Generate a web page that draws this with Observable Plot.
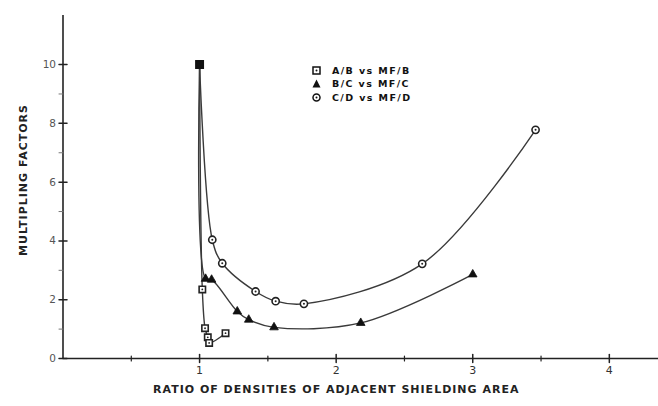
<!DOCTYPE html>
<html><head><meta charset="utf-8">
<script src="https://cdn.jsdelivr.net/npm/d3@7"></script>
<script src="https://cdn.jsdelivr.net/npm/@observablehq/plot@0.6"></script>
<style>
body{margin:0;background:#fff;}
#wrap{position:relative;width:658px;height:406px;}
.legend{position:absolute;left:312px;top:64px;font:bold 9.5px "DejaVu Sans",sans-serif;letter-spacing:1.4px;color:#111;}
.legend div{height:13.3px;display:flex;align-items:center;white-space:pre;}
.legend svg{margin-right:11px}
</style></head><body><div id="wrap"></div>
<script>
// Series: A/B vs MF/B (squares)
const xAB = [1.0, 1.02, 1.04, 1.06, 1.07, 1.19];
const yAB = [10, 2.35, 1.03, 0.72, 0.53, 0.86];
// Series: B/C vs MF/C (triangles)
const xBC = [1.0, 1.044, 1.088, 1.276, 1.36, 1.545, 2.18, 3.0];
const yBC = [10, 2.71, 2.68, 1.6, 1.32, 1.06, 1.21, 2.86];
// Series: C/D vs MF/D (circles)
const xCD = [1.0, 1.093, 1.166, 1.41, 1.557, 1.764, 2.63, 3.46];
const yCD = [10, 4.04, 3.24, 2.28, 1.95, 1.86, 3.22, 7.78];

const seriesNames = ["A/B vs MF/B", "B/C vs MF/C", "C/D vs MF/D"];
const xMajorTicks = [1, 2, 3, 4];
const xMinorTicks = [0.5, 1.5, 2.5, 3.5];
const yMajorTicks = [0, 2, 4, 6, 8, 10];
const yMinorTicks = [1, 3, 5, 7, 9];
const xTitle = "RATIO OF DENSITIES OF ADJACENT SHIELDING AREA";
const yTitle = "MULTIPLING FACTORS";

const pts = (xs, ys) => xs.map((x, i) => ({x, y: ys[i]}));
const AB = pts(xAB, yAB), BC = pts(xBC, yBC), CD = pts(xCD, yCD);

const lineShape = {draw(ctx, l) { ctx.moveTo(0, 0); ctx.lineTo(0, -l); }};
const ink = "#222";
const lineInk = "#3a3a3a";
const font = "DejaVu Sans";

const chart = Plot.plot({
  width: 658, height: 406,
  marginLeft: 62.5, marginRight: 0, marginTop: 15, marginBottom: 48,
  x: {domain: [0, 4.36], axis: null},
  y: {domain: [0, 11.67], axis: null},
  style: {background: "#fff", fontFamily: font},
  marks: [
    Plot.ruleY([0], {stroke: ink, strokeWidth: 1.6}),
    Plot.ruleX([0], {stroke: ink, strokeWidth: 1.6}),
    Plot.vector(xMajorTicks, {x: d => d, frameAnchor: "bottom", length: 8, anchor: "middle", shape: lineShape, stroke: ink, strokeWidth: 1.5}),
    Plot.vector(xMinorTicks, {x: d => d, frameAnchor: "bottom", length: 5, anchor: "middle", shape: lineShape, stroke: ink, strokeWidth: 1.2}),
    Plot.vector(yMajorTicks, {y: d => d, frameAnchor: "left", rotate: 90, length: 8, anchor: "middle", shape: lineShape, stroke: ink, strokeWidth: 1.5}),
    Plot.vector(yMinorTicks, {y: d => d, frameAnchor: "left", rotate: 90, length: 4, anchor: "end", shape: lineShape, stroke: "#777", strokeWidth: 1}),
    Plot.text(xMajorTicks, {x: d => d, frameAnchor: "bottom", dy: 15, text: d => String(d), fontSize: 11, fill: "#333"}),
    Plot.text(yMajorTicks, {y: d => d, frameAnchor: "left", dx: -7, textAnchor: "end", text: d => String(d), fontSize: 10.5, fill: "#555"}),
    Plot.text([xTitle], {frameAnchor: "bottom-left", dx: 90, dy: 34, textAnchor: "start", text: d => d, fontSize: 11, fontWeight: "bold", fill: ink}),
    Plot.text([yTitle], {frameAnchor: "left", dx: -40, dy: -7, rotate: -90, textAnchor: "middle", text: d => d, fontSize: 11, fontWeight: "bold", fill: ink}),
    Plot.line(AB, {x: "x", y: "y", curve: "catmull-rom", stroke: lineInk, strokeWidth: 1.4}),
    Plot.line(BC, {x: "x", y: "y", curve: "catmull-rom", stroke: lineInk, strokeWidth: 1.4}),
    Plot.line(CD, {x: "x", y: "y", curve: "catmull-rom", stroke: lineInk, strokeWidth: 1.4}),
    Plot.dot(BC.slice(1), {x: "x", y: "y", symbol: "triangle", r: 3.2, fill: "#111", stroke: "#111", strokeWidth: 0.8}),
    Plot.dot(CD.slice(1), {x: "x", y: "y", symbol: "circle", r: 3.6, fill: "#fff", stroke: "#222", strokeWidth: 1.6}),
    Plot.dot(CD.slice(1), {x: "x", y: "y", symbol: "circle", r: 1, fill: "#222"}),
    Plot.dot(AB.slice(1), {x: "x", y: "y", symbol: "square", r: 3.6, fill: "#fff", stroke: "#222", strokeWidth: 1.6}),
    Plot.dot(AB.slice(1), {x: "x", y: "y", symbol: "circle", r: 0.9, fill: "#222"}),
    Plot.dot(AB.slice(0, 1), {x: "x", y: "y", symbol: "square", r: 4.2, fill: "#111", stroke: "#111"})
  ]
});

d3.select(chart).selectAll("text")
  .filter(function() { return this.textContent === xTitle || this.textContent === yTitle; })
  .style("letter-spacing", "1px");

const wrap = document.getElementById("wrap");
wrap.appendChild(chart);

const legend = document.createElement("div");
legend.className = "legend";
const syms = [
  '<svg width="9" height="9"><rect x="1" y="1" width="7" height="7" fill="#fff" stroke="#111" stroke-width="1.5"/><circle cx="4.5" cy="4.5" r="1" fill="#111"/></svg>',
  '<svg width="9" height="9"><path d="M4.5 0.5 L8.5 8.5 L0.5 8.5 Z" fill="#111"/></svg>',
  '<svg width="9" height="9"><circle cx="4.5" cy="4.5" r="3.5" fill="#fff" stroke="#111" stroke-width="1.5"/><circle cx="4.5" cy="4.5" r="1" fill="#111"/></svg>'
];
seriesNames.forEach((name, i) => {
  const row = document.createElement("div");
  row.innerHTML = syms[i] + "<span>" + name + "</span>";
  legend.appendChild(row);
});
wrap.appendChild(legend);
</script>
</body></html>
